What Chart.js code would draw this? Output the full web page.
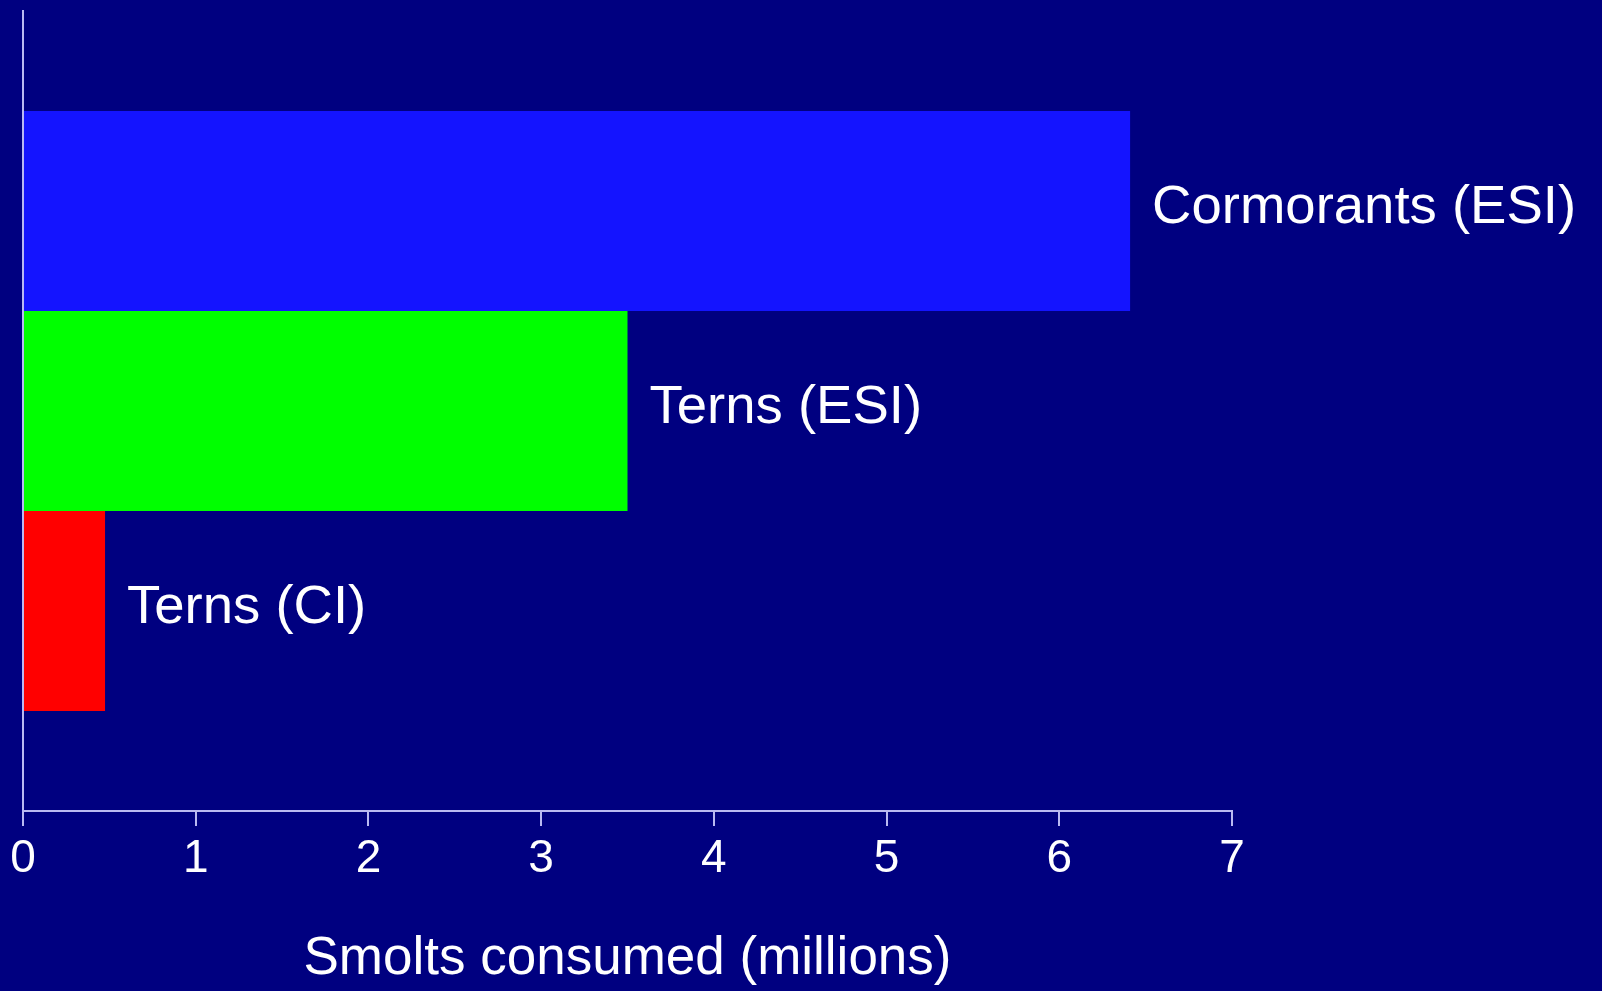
<!DOCTYPE html>
<html>
<head>
<meta charset="utf-8">
<script src="https://cdn.jsdelivr.net/npm/chart.js@4/dist/chart.umd.min.js"></script>
<style>
  html, body { margin: 0; padding: 0; background: #000080; }
  #wrap { width: 1602px; height: 991px; }
</style>
</head>
<body>
<div id="wrap"><canvas id="smolts"></canvas></div>
<script>
// values
const birdGroups = ['Cormorants (ESI)', 'Terns (ESI)', 'Terns (CI)'];
const smoltsConsumed = [6.41, 3.50, 0.475];   // millions
const barColors = ['#1414ff', '#00ff00', '#ff0000'];
const xMin = 0;
const xMax = 7;
const xTitle = 'Smolts consumed (millions)';

const axisColor = '#b9b9f2';
const fontFamily = '"Liberation Sans", Arial, Helvetica, sans-serif';

// write each group's name just past the end of its bar
const barLabels = {
  id: 'barLabels',
  afterDatasetsDraw(chart) {
    let _ctx = chart.ctx;
    _ctx.save();
    _ctx.font = `54.5px ${fontFamily}`;
    _ctx.fillStyle = '#ffffff';
    _ctx.textAlign = 'left';
    _ctx.textBaseline = 'middle';
    chart.data.datasets.forEach((ds, i) => {
      let bar = chart.getDatasetMeta(i).data[0];
      _ctx.fillText(ds.label, bar.x + 22, bar.y - 3);
    });
    _ctx.restore();
  }
};

const datasets = birdGroups.map((name, i) => ({
  label: name,
  data: [smoltsConsumed[i]],
  backgroundColor: barColors[i],
  borderWidth: 0,
  categoryPercentage: 0.75,
  barPercentage: 1.0
}));

new Chart(document.getElementById('smolts'), {
  type: 'bar',
  data: {
    labels: [''],
    datasets: datasets
  },
  options: {
    indexAxis: 'y',
    responsive: true,
    maintainAspectRatio: false,
    animation: false,
    layout: {
      padding: { left: 23, right: 370, top: 11, bottom: 0 }
    },
    plugins: {
      legend: { display: false },
      tooltip: { enabled: false }
    },
    scales: {
      x: {
        min: xMin,
        max: xMax,
        ticks: {
          stepSize: 1,
          color: '#ffffff',
          padding: 6,
          font: { family: fontFamily, size: 46 }
        },
        grid: {
          drawOnChartArea: false,
          drawTicks: true,
          tickLength: 15,
          color: axisColor,
          lineWidth: 2
        },
        border: { display: true, color: axisColor, width: 2 },
        title: {
          display: true,
          text: xTitle,
          color: '#ffffff',
          padding: { top: 0, bottom: 0 },
          font: { family: fontFamily, size: 53 }
        },
        afterFit(scale) {
          scale.height = 180;
        }
      },
      y: {
        ticks: { display: false },
        grid: { display: false },
        border: { display: true, color: axisColor, width: 2 },
        afterFit(scale) {
          scale.width = 0;
        }
      }
    }
  },
  plugins: [barLabels]
});
</script>
</body>
</html>
